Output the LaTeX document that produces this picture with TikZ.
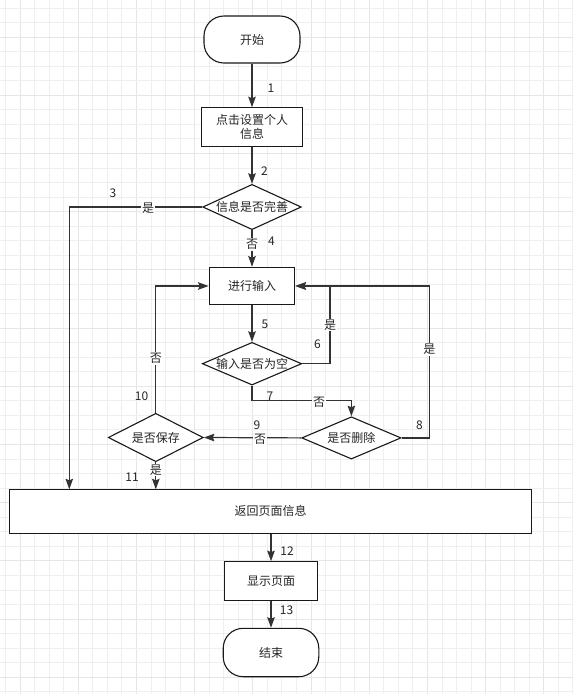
\documentclass[tikz,border=0pt]{standalone}
\usepackage{fontspec}
\setmainfont{Noto Sans CJK SC}
\usetikzlibrary{shapes.geometric,arrows.meta}
\definecolor{lineC}{HTML}{333333}
\definecolor{gridA}{HTML}{EFEFEF}
\definecolor{gridB}{HTML}{E6E6E6}
\tikzset{
  txt/.style={font=\fontsize{12}{14}\selectfont, text=black!85},
  term/.style={txt, draw=black!90, line width=1.1pt, rounded corners=20pt, inner sep=0pt, fill=white},
  procbox/.style={txt, draw=black!90, line width=1.1pt, inner sep=0pt, fill=white, align=center},
  decide/.style={txt, draw=black!90, line width=1.1pt, diamond, aspect=2.2, inner sep=0pt, fill=white},
  flow/.style={draw=lineC, line width=1.2pt, -{Stealth[length=10.5pt,width=7.5pt,inset=1.5pt]}},
  elab/.style={txt, fill=white, inner sep=1pt},
  num/.style={txt, inner sep=0pt}
}
\begin{document}
\begin{tikzpicture}[x=1pt,y=-1pt]
\useasboundingbox (0,0) rectangle (573,694);
\fill[white] (0,0) rectangle (573,694);
% grid
\foreach \i in {0,...,39} {
  \pgfmathsetmacro{\xx}{5.5+\i*14.55}
  \pgfmathtruncatemacro{\m}{mod(\i,4)}
  \ifnum\m=1 \draw[gridB, line width=1pt] (\xx,0) -- (\xx,694); \else \draw[gridA, line width=1pt] (\xx,0) -- (\xx,694); \fi
}
\foreach \i in {0,...,47} {
  \pgfmathsetmacro{\yy}{8+\i*14.55}
  \pgfmathtruncatemacro{\m}{mod(\i,4)}
  \ifnum\m=2 \draw[gridB, line width=1pt] (0,\yy) -- (573,\yy); \else \draw[gridA, line width=1pt] (0,\yy) -- (573,\yy); \fi
}

% nodes
\node[term, minimum width=96pt, minimum height=47pt] (start) at (252,39.5) {开始};
\node[procbox, minimum width=100.5pt, minimum height=38.5pt] (click) at (252,127) {点击设置个人\\信息};
\node[decide, minimum width=98.5pt, minimum height=45.3pt] (d1) at (252,207) {\makebox[0pt]{信息是否完善}};
\node[procbox, minimum width=85.7pt, minimum height=37.7pt] (input) at (252,286) {进行输入};
\node[decide, minimum width=99.4pt, minimum height=42.7pt] (d2) at (252,363.7) {\makebox[0pt]{输入是否为空}};
\node[decide, minimum width=99.3pt, minimum height=42.3pt] (d3) at (351.4,437.9) {\makebox[0pt]{是否删除}};
\node[decide, minimum width=95pt, minimum height=48.4pt] (d4) at (155.8,437.5) {\makebox[0pt]{是否保存}};
\node[procbox, minimum width=522.4pt, minimum height=44pt] (ret) at (270.5,511.3) {返回页面信息};
\node[procbox, minimum width=92.5pt, minimum height=38.6pt] (show) at (271,581) {显示页面};
\node[term, minimum width=95.6pt, minimum height=48.4pt] (end) at (271,652.5) {结束};

\coordinate (c3a) at (69.3,207);
\coordinate (c3b) at (69.3,489.3);
\coordinate (c6a) at (330,363.7);
\coordinate (c6b) at (330,286);
\coordinate (c7a) at (252,400.7);
\coordinate (c7b) at (351.4,400.7);
\coordinate (c8a) at (429.3,437.9);
\coordinate (c8b) at (429.3,286);
\coordinate (c10a) at (155.8,286);
\coordinate (c11) at (155.8,489.3);

% connectors
\draw[flow] (start) -- (click);
\draw[flow] (click) -- (d1);
\draw[flow] (d1.west) -- (c3a) -- (c3b);
\draw[flow] (d1) -- (input);
\draw[flow] (input) -- (d2);
\draw[flow] (d2.east) -- (c6a) -- (c6b) -- (input.east);
\draw[flow] (d2.south) -- (c7a) -- (c7b) -- (d3.north);
\draw[flow] (d3.east) -- (c8a) -- (c8b) -- (input.east);
\draw[flow] (d3.west) -- (d4.east);
\draw[flow] (d4.north) -- (c10a) -- (input.west);
\draw[flow] (d4.south) -- (c11);
\draw[flow] (ret.south -| show.north) -- (show.north);
\draw[flow] (show.south -| end.north) -- (end.north);

% edge labels
\node[elab] (l3) at (148,208) {是};
\node[elab] (l4) at (252,244.5) {否};
\node[elab] (l6) at (330,325) {是};
\node[elab] (l7) at (319,402) {否};
\node[elab] (l8) at (429.3,349.5) {是};
\node[elab] (l9) at (260,439) {否};
\node[elab] (l10) at (155.8,358.5) {否};
\node[elab] (l11) at (155.8,470) {是};

% numbers
\node[num] (n1) at (271,88.7) {1};
\node[num] (n2) at (264.5,170.7) {2};
\node[num] (n3) at (113,193.5) {3};
\node[num] (n4) at (271.5,241.5) {4};
\node[num] (n5) at (265,324.5) {5};
\node[num] (n6) at (317.5,344.5) {6};
\node[num] (n7) at (270,396) {7};
\node[num] (n8) at (419.5,425.5) {8};
\node[num] (n9) at (257,425.5) {9};
\node[num] (n10) at (141.5,396) {10};
\node[num] (n11) at (132,477.5) {11};
\node[num] (n12) at (287,551) {12};
\node[num] (n13) at (286.5,610) {13};
\end{tikzpicture}
\end{document}
